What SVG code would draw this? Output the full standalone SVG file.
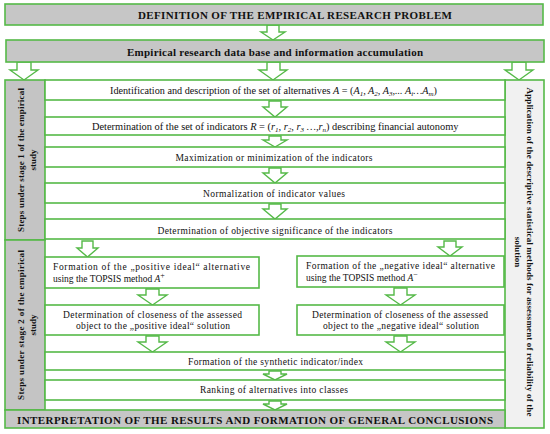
<svg xmlns="http://www.w3.org/2000/svg" width="550" height="434" viewBox="0 0 550 434">
<style>
.gb{fill:#c6c6c6;stroke:#55b948;stroke-width:1.6}
.side{fill:#c4c4c4;stroke:#55b948;stroke-width:1.6}
.rside{fill:#f1f1f1;stroke:#55b948;stroke-width:1.6}
.wb{fill:#ffffff;stroke:#55b948;stroke-width:1.6}
.ar{fill:#ffffff;stroke:#55b948;stroke-width:1.4;stroke-linejoin:miter}
text{font-family:"Liberation Serif","Times New Roman",serif;fill:#111}
.t{font-size:9.5px}
.b{font-weight:bold}
.h{font-size:11px;font-weight:bold}
.s{font-size:9px;font-weight:bold}
.i{font-style:italic}
.sub{font-size:7px}
</style>
<rect x="0" y="0" width="550" height="434" fill="#ffffff"/>
<g id="connectors">
<polygon class="ar" points="267,25 279,25 279,32 285,32 273,40 261,32 267,32"/>
<polygon class="ar" points="17,62 31,62 31,70 38,70 24,80 10,70 17,70"/>
<polygon class="ar" points="267,62 280,62 280,70 287,70 273,80 259,70 267,70"/>
<polygon class="ar" points="512,62 526,62 526,70 533,70 519,80 505,70 512,70"/>
<polygon class="ar" points="269,101 281,101 281,107 287,107 275,117 263,107 269,107"/>
<polygon class="ar" points="269,136 281,136 281,140 287,140 275,147 263,140 269,140"/>
<polygon class="ar" points="269,168 281,168 281,173 287,173 275,183 263,173 269,173"/>
<polygon class="ar" points="269,204 281,204 281,209 287,209 275,219 263,209 269,209"/>
<polygon class="ar" points="82,241 93,241 93,248 98,248 87.5,257 77,248 82,248"/>
<polygon class="ar" points="444,241 456,241 456,247 462,247 450,256 438,247 444,247"/>
<polygon class="ar" points="146,289 159,289 159,295 167,295 152.5,305 138,295 146,295"/>
<polygon class="ar" points="394,288 407,288 407,295 415,295 400.5,305 386,295 394,295"/>
<polygon class="ar" points="146,336 159,336 159,342 167,342 152.5,352 138,342 146,342"/>
<polygon class="ar" points="394,336 407,336 407,342 415,342 400.5,352 386,342 394,342"/>
<polygon class="ar" points="269,371 281,371 281,374 287,374 275,380 263,374 269,374"/>
<polygon class="ar" points="269,401 281,401 281,404 287,404 275,410 263,404 269,404"/>
</g>
<g id="n-definition">
<rect class="gb" x="5" y="4" width="538" height="21"/>
<text class="h" x="138" y="19" textLength="314">DEFINITION OF THE EMPIRICAL RESEARCH PROBLEM</text>
</g>
<g id="n-database">
<rect class="gb" x="6" y="40" width="538" height="22"/>
<text class="h" x="275" y="56" text-anchor="middle" textLength="296">Empirical research data base and information accumulation</text>
</g>
<g id="n-stage1">
<rect class="side" x="5" y="80" width="40" height="160"/>
<g transform="translate(24,160) rotate(-90)">
<text class="s" x="0" y="0" text-anchor="middle" textLength="144">Steps under stage 1 of the empirical</text>
<text class="s" x="0" y="12" text-anchor="middle">study</text>
</g>
</g>
<g id="n-stage2">
<rect class="side" x="5" y="240" width="40" height="170"/>
<g transform="translate(24,325) rotate(-90)">
<text class="s" x="0" y="0" text-anchor="middle" textLength="150">Steps under stage 2 of the empirical</text>
<text class="s" x="0" y="12" text-anchor="middle">study</text>
</g>
</g>
<g id="n-application">
<rect class="rside" x="505" y="80" width="39" height="348"/>
<g transform="translate(527,252) rotate(90)">
<text class="s" x="0" y="0" text-anchor="middle" textLength="329">Application of the descriptive statistical methods for assessment of reliability of the</text>
<text class="s" x="0" y="12" text-anchor="middle">solution</text>
</g>
</g>
<g id="n-identification">
<rect class="wb" x="45" y="80" width="460" height="20"/>
<text x="110" y="94" style="font-size:10.2px">Identification and description of the set of alternatives <tspan class="i">A</tspan> = (<tspan class="i">A<tspan class="sub" dy="2">1</tspan><tspan dy="-2">, A</tspan><tspan class="sub" dy="2">2</tspan><tspan dy="-2">, A</tspan><tspan class="sub" dy="2">3</tspan><tspan dy="-2">,... A</tspan><tspan class="sub" dy="2">i</tspan><tspan dy="-2">…A</tspan><tspan class="sub" dy="2">m</tspan></tspan><tspan dy="-2">)</tspan></text>
</g>
<g id="n-indicators">
<rect class="wb" x="45" y="117" width="460" height="18"/>
<text x="92" y="130" style="font-size:10.4px">Determination of the set of indicators <tspan class="i">R</tspan> = (<tspan class="i">r<tspan class="sub" dy="2">1</tspan><tspan dy="-2">, r</tspan><tspan class="sub" dy="2">2</tspan><tspan dy="-2">, r</tspan><tspan class="sub" dy="2">3</tspan><tspan dy="-2"> …,r</tspan><tspan class="sub" dy="2">n</tspan></tspan><tspan dy="-2">) describing financial autonomy</tspan></text>
</g>
<g id="n-maximization">
<rect class="wb" x="45" y="147" width="460" height="20"/>
<text class="t" x="274" y="161" text-anchor="middle" textLength="197">Maximization or minimization of the indicators</text>
</g>
<g id="n-normalization">
<rect class="wb" x="45" y="183" width="460" height="20"/>
<text class="t" x="274" y="197" text-anchor="middle" textLength="142">Normalization of indicator values</text>
</g>
<g id="n-significance">
<rect class="wb" x="45" y="219" width="460" height="20"/>
<text class="t" x="275" y="234" text-anchor="middle" textLength="235">Determination of objective significance of the indicators</text>
</g>
<g id="n-positive">
<rect class="wb" x="45" y="257" width="214" height="31"/>
<text class="t" x="53" y="270" textLength="197">Formation of the „positive ideal“ alternative</text>
<text class="t" x="53" y="282">using the TOPSIS method  <tspan class="i">A</tspan><tspan style="font-size:8px" dy="-4">+</tspan></text>
</g>
<g id="n-negative">
<rect class="wb" x="297" y="256" width="207" height="31"/>
<text class="t" x="306" y="269" textLength="189">Formation of the „negative ideal“ alternative</text>
<text class="t" x="306" y="281">using the TOPSIS method  <tspan class="i">A</tspan><tspan style="font-size:8px" dy="-4">−</tspan></text>
</g>
<g id="n-closeness-positive">
<rect class="wb" x="45" y="305" width="214" height="30"/>
<text class="t" x="152.5" y="318" text-anchor="middle" textLength="179">Determination of closeness of the assessed</text>
<text class="t" x="153" y="329" text-anchor="middle" textLength="154">object to the „positive ideal“ solution</text>
</g>
<g id="n-closeness-negative">
<rect class="wb" x="297" y="305" width="207" height="30"/>
<text class="t" x="400" y="318" text-anchor="middle" textLength="176">Determination of closeness of the assessed</text>
<text class="t" x="401" y="329" text-anchor="middle" textLength="156">object to the „negative ideal“ solution</text>
</g>
<g id="n-synthetic">
<rect class="wb" x="45" y="352" width="460" height="18"/>
<text class="t" x="275.5" y="365" text-anchor="middle" textLength="175">Formation of the synthetic indicator/index</text>
</g>
<g id="n-ranking">
<rect class="wb" x="45" y="380" width="460" height="20"/>
<text class="t" x="274" y="393" text-anchor="middle" textLength="148">Ranking of alternatives into classes</text>
</g>
<g id="n-interpretation">
<rect class="gb" x="5" y="410" width="500" height="18"/>
<text class="h" x="17" y="424" textLength="476">INTERPRETATION OF THE RESULTS AND FORMATION OF GENERAL CONCLUSIONS</text>
</g>
</svg>
